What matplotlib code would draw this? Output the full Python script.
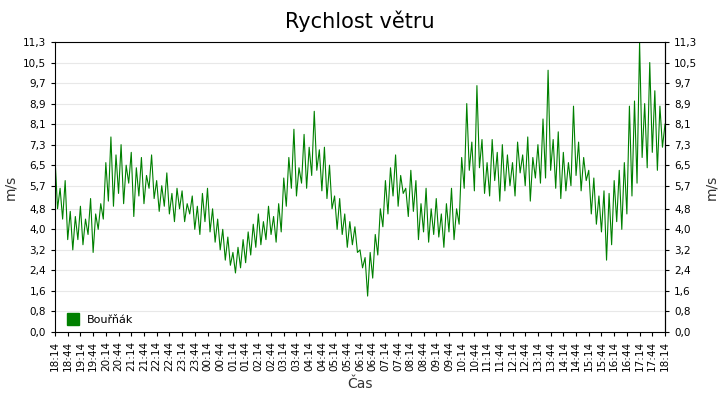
import matplotlib
matplotlib.use("Agg")
import matplotlib.pyplot as plt
import numpy as np

# wind speed, one value every 6 minutes starting 18:14
speed = [
 6.8,4.8,5.6,4.4,5.9,3.6,4.7,3.2,4.5,3.6,
 4.9,3.4,4.4,3.8,5.2,3.1,4.6,4.0,5.0,4.4,
 6.6,5.1,7.6,4.9,6.9,5.4,7.3,5.0,6.5,5.8,
 7.0,4.5,6.4,5.3,6.8,5.0,6.1,5.6,6.9,5.2,
 5.9,4.7,5.7,4.9,6.2,4.6,5.4,4.3,5.6,4.8,
 5.5,4.3,5.0,4.6,5.3,4.0,4.9,3.8,5.4,4.3,
 5.6,3.9,4.8,3.5,4.4,3.2,4.0,2.8,3.7,2.6,
 3.1,2.3,3.3,2.5,3.6,2.7,3.9,3.0,4.2,3.3,
 4.6,3.4,4.3,3.6,4.9,3.8,4.5,3.5,5.0,3.9,
 6.0,4.9,6.8,5.6,7.9,5.3,6.4,5.8,7.7,5.6,
 7.2,6.1,8.6,6.3,7.1,5.5,7.2,5.2,6.5,4.8,
 5.3,4.0,5.2,3.8,4.6,3.3,4.3,3.4,4.1,3.1,
 3.2,2.5,2.9,1.4,3.1,2.1,3.8,3.0,4.8,4.1,
 5.9,4.6,6.4,5.3,6.9,4.9,6.1,5.4,5.6,4.5,
 6.3,4.7,5.9,3.6,5.0,3.9,5.6,3.5,4.8,3.8,
 5.2,3.7,4.6,3.3,5.0,3.9,5.6,3.6,4.8,4.2,
 6.8,5.6,8.9,6.3,7.4,5.5,9.6,6.4,7.5,5.4,
 6.6,5.3,7.5,5.9,7.0,5.1,7.3,5.5,6.9,5.7,
 6.6,5.3,7.4,6.2,6.9,5.7,7.6,5.1,6.8,6.0,
 7.3,5.8,8.3,6.0,10.2,6.3,7.5,5.6,7.8,5.2,
 7.0,5.5,6.6,5.7,8.8,6.1,7.4,5.5,6.8,5.9,
 6.3,4.6,6.0,4.2,5.3,3.9,5.5,2.8,5.4,3.4,
 5.9,4.3,6.3,4.0,6.6,4.6,8.8,5.3,9.0,5.8,
 11.3,6.8,8.9,6.4,10.5,7.0,9.4,6.3,8.8,7.2,
 8.1]
step_min = 6
yticks = [0.0,0.8,1.6,2.4,3.2,4.0,4.8,5.7,6.5,7.3,8.1,8.9,9.7,10.5,11.3]
start_h, start_m = 18, 14
series_name = "Bouřňák"

x = np.arange(len(speed)) * step_min
xt = np.arange(0, 1441, 30)
xlabels = []
for t in xt:
    tot = start_h*60 + start_m + t
    xlabels.append(f"{(tot//60)%24:02d}:{tot%60:02d}")

fig = plt.figure(figsize=(7.2, 4), dpi=100)
ax = fig.add_axes([55/720, 1-332/400, 610/720, 290/400])
ax.plot(x, speed, color="#008000", lw=0.8, label=series_name)
ax.set_xlim(0, 1440)
ax.set_ylim(0, 11.3)
ax.set_yticks(yticks)
ax.set_yticklabels([f"{v:.1f}".replace(".", ",") for v in yticks], fontsize=7.5)
ax.set_xticks(xt)
ax.set_xticklabels(xlabels, rotation=90, fontsize=7.5)
ax.yaxis.grid(True, color="#e8e8e8", lw=0.8)
ax.set_axisbelow(True)
ax.tick_params(axis="y", right=True, labelright=True, length=3)
ax.tick_params(axis="x", length=3)
ax.set_ylabel("m/s", fontsize=10, color="#333333")
ax2 = ax.secondary_yaxis("right")
ax2.set_yticks([])
ax2.set_ylabel("m/s", fontsize=10, color="#333333", labelpad=28)
ax.set_xlabel("Čas", fontsize=10, color="#333333")
fig.suptitle("Rychlost větru", fontsize=15, y=0.975)
from matplotlib.lines import Line2D
h = [Line2D([], [], marker="s", ls="", color="#008000", markersize=8)]
ax.legend(h, [series_name], loc="lower left", frameon=False, fontsize=8,
          handletextpad=0.3, borderaxespad=0.2)
fig.savefig("out.png", dpi=100)
